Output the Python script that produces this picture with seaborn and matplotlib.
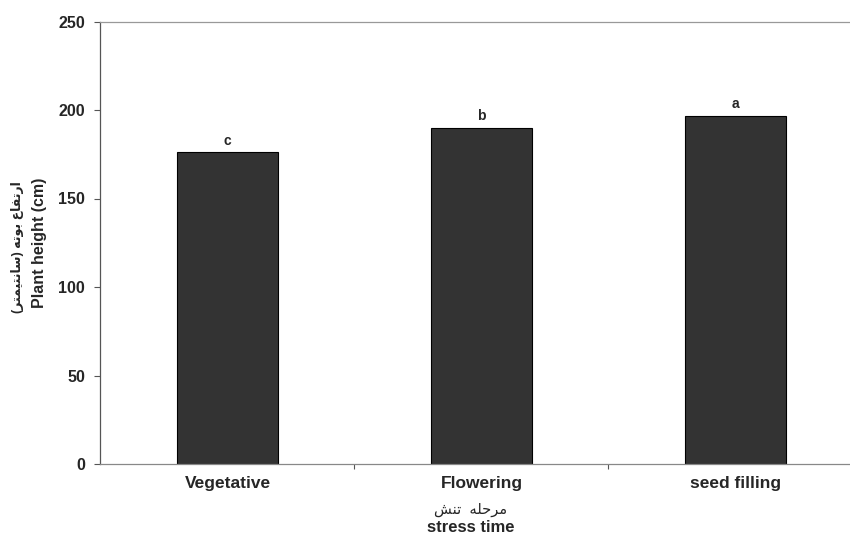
import matplotlib
matplotlib.use("Agg")
import matplotlib.pyplot as plt
import seaborn as sns
import pandas as pd

# stage names, mean plant height (cm) and Duncan letters
stages = ["Vegetative", "Flowering", "seed filling"]
heights = [176, 190, 196.5]
letters = ["c", "b", "a"]
y_ticks = [0, 50, 100, 150, 200, 250]

# Persian labels, written as shaped presentation forms in visual order
# (matplotlib does no Arabic shaping on its own)
fa_ylabel = ("(\uFEAE\uFE98\uFEE4\uFEF4\uFE98\uFEE7\uFE8E\uFEB3) "
             "\uFEEA\uFE97\uFEEE\uFE91 "
             "\uFEC9\uFE8E\uFED4\uFE97\uFEAD\uFE8D")
fa_xlabel = "\uFEB6\uFEE8\uFE97  \uFEEA\uFEE0\uFEA3\uFEAE\uFEE3"

sns.set_theme(style="white")
plt.rcParams["font.family"] = ["Liberation Sans", "DejaVu Sans"]

df = pd.DataFrame({"stage": stages, "height": heights})

fig = plt.figure(figsize=(8.5, 5.35), dpi=100)
ax = fig.add_axes([100 / 850, 71 / 535, 750 / 850, 442.5 / 535])

sns.barplot(data=df, x="stage", y="height", order=stages, color="#333333",
            width=0.40, edgecolor="black", linewidth=0.8, saturation=1, ax=ax)

for i, (v, lab) in enumerate(zip(heights, letters)):
    ax.annotate(lab, (i, v), xytext=(0, 3.5), textcoords="offset points",
                ha="center", va="bottom", fontsize=10, fontweight="bold")

ax.set_ylim(0, 250)
ax.set_xlim(-0.502, 2.451)
ax.set_yticks(y_ticks)
ax.set_yticklabels([str(t) for t in y_ticks], fontsize=11.5, fontweight="bold")
ax.set_xticks(range(len(stages)))
ax.set_xticklabels(stages, fontsize=12.5, fontweight="bold")
ax.set_xticks([0.5, 1.5], minor=True)

ax.tick_params(axis="y", which="major", direction="out", length=4.3, width=0.8,
               color="#555555", pad=6.5, left=True)
ax.tick_params(axis="x", which="major", length=0, pad=8.5)
ax.tick_params(axis="x", which="minor", direction="out", length=3.6, width=0.8,
               color="#555555", bottom=True)

for side in ["left", "bottom", "top"]:
    ax.spines[side].set_visible(True)
    ax.spines[side].set_linewidth(0.9)
ax.spines["left"].set_color("#555555")
ax.spines["bottom"].set_color("#888888")
ax.spines["top"].set_color("#999999")
ax.spines["right"].set_visible(False)

ax.set_ylabel("Plant height (cm)", fontsize=11.5, fontweight="bold", labelpad=8)
ax.set_xlabel("")
fig.text(18 / 850, 1 - 247 / 535, fa_ylabel, rotation=90, ha="center",
         va="center", fontsize=9, fontweight="bold")
fig.text(471 / 850, 1 - 510 / 535, fa_xlabel, ha="center", va="center",
         fontsize=10.5)
fig.text(471 / 850, 1 - 527 / 535, "stress time", ha="center", va="center",
         fontsize=12, fontweight="bold")

fig.savefig("out.png", dpi=100)
